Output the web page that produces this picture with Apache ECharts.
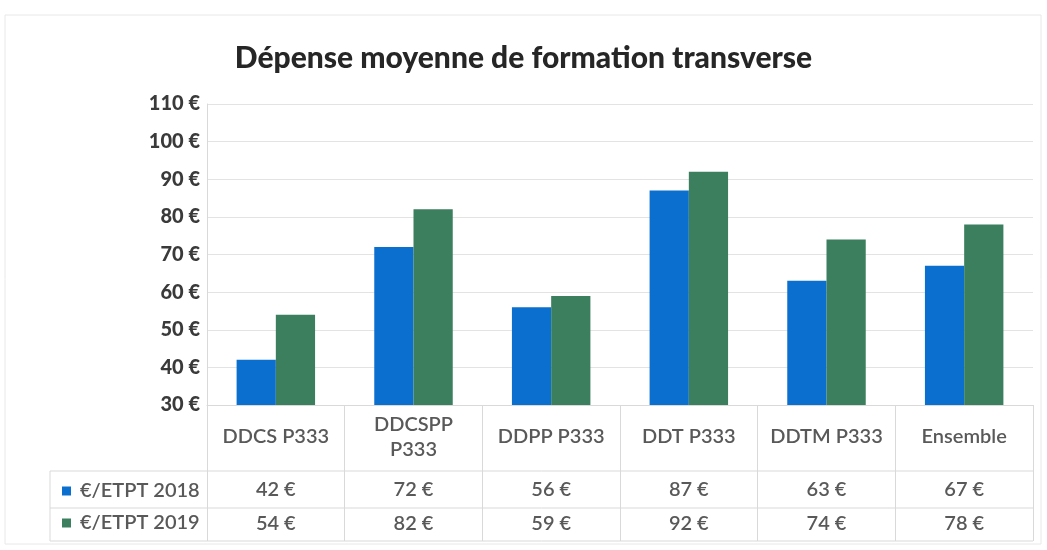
<!DOCTYPE html>
<html>
<head>
<meta charset="utf-8">
<script src="https://cdn.jsdelivr.net/npm/echarts@6/dist/echarts.min.js"></script>
<style>
  html, body { margin: 0; padding: 0; background: #fff; }
  #main { width: 1047px; height: 550px; }
</style>
</head>
<body>
<div id="main"></div>
<script>
const categories = ['DDCS P333', 'DDCSPP\nP333', 'DDPP P333', 'DDT P333', 'DDTM P333', 'Ensemble'];
const etpt2018 = [42, 72, 56, 87, 63, 67];
const etpt2019 = [54, 82, 59, 92, 74, 78];
const seriesNames = ['€/ETPT 2018', '€/ETPT 2019'];

const font = 'Lato, "Open Sans", sans-serif';
const lineColor = '#d9d9d9';
const textGray = '#595959';

const chart = echarts.init(document.getElementById('main'));

// libellés du tableau sous le graphique
const rowAxis = (values, offset, margin) => ({
  type: 'category',
  position: 'bottom',
  offset: offset,
  gridIndex: 0,
  data: values.map(v => v + ' €'),
  axisLine: {show: false},
  axisTick: {show: false},
  axisLabel: {
    interval: 0,
    margin: margin,
    verticalAlign: 'middle',
    fontFamily: font,
    fontWeight: 600,
    fontSize: 20,
    color: textGray
  }
});

chart.setOption({
  animation: false,
  title: {
    text: 'Dépense moyenne de formation transverse',
    left: 'center',
    top: 38,
    textStyle: {
      fontFamily: font,
      fontWeight: 900,
      fontSize: 30,
      color: '#262626'
    }
  },
  legend: {
    orient: 'vertical',
    left: 57,
    top: 476,
    itemWidth: 9,
    itemHeight: 9,
    itemGap: 12,
    icon: 'rect',
    textStyle: {fontFamily: font, fontWeight: 600, fontSize: 20, color: textGray, padding: [0, 0, 0, 4]}
  },
  grid: {left: 207, right: 14, top: 104, bottom: 145},
  xAxis: [
    {
      type: 'category',
      data: categories,
      axisLine: {show: true, lineStyle: {color: lineColor}},
      axisTick: {show: true, interval: 0, length: 136, lineStyle: {color: lineColor}},
      axisLabel: {
        interval: 0,
        margin: 32,
        verticalAlign: 'middle',
        lineHeight: 25,
        fontFamily: font,
        fontWeight: 600,
        fontSize: 20,
        color: textGray
      }
    },
    rowAxis(etpt2018, 66, 19),
    rowAxis(etpt2019, 103, 16)
  ],
  yAxis: {
    type: 'value',
    min: 30,
    max: 110,
    interval: 10,
    axisLine: {show: true, lineStyle: {color: lineColor}},
    axisTick: {show: false},
    splitLine: {lineStyle: {color: '#e3e3e3'}},
    axisLabel: {
      formatter: '{value} €',
      margin: 7,
      fontFamily: font,
      fontWeight: 900,
      fontSize: 20,
      color: '#3a3a3a'
    }
  },
  series: [
    {
      name: seriesNames[0],
      type: 'bar',
      data: etpt2018,
      barGap: '0%',
      barCategoryGap: '43%',
      itemStyle: {color: '#0a6fce'}
    },
    {
      name: seriesNames[1],
      type: 'bar',
      data: etpt2019,
      itemStyle: {color: '#3b7f5e'}
    }
  ],
  graphic: [
    {type: 'rect', shape: {x: 5, y: 15, width: 1036, height: 529}, style: {fill: 'none', stroke: '#e8e8e8', lineWidth: 1}, silent: true},
    {type: 'line', shape: {x1: 50, y1: 471, x2: 1033, y2: 471}, style: {stroke: lineColor}},
    {type: 'line', shape: {x1: 50, y1: 508, x2: 1033, y2: 508}, style: {stroke: lineColor}},
    {type: 'line', shape: {x1: 50, y1: 541, x2: 1033, y2: 541}, style: {stroke: lineColor}},
    {type: 'line', shape: {x1: 50, y1: 471, x2: 50, y2: 541}, style: {stroke: lineColor}}
  ]
});
</script>
</body>
</html>
